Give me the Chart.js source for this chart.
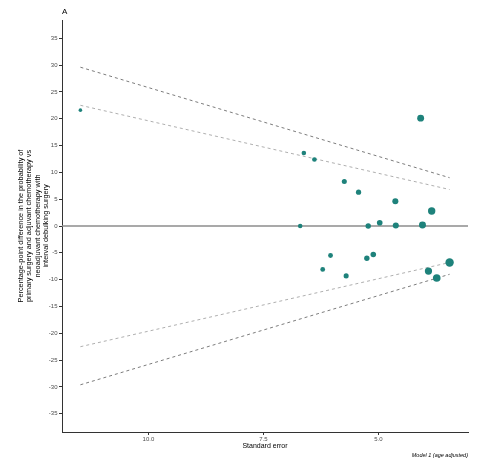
<!DOCTYPE html>
<html>
<head>
<meta charset="utf-8">
<script src="https://cdn.jsdelivr.net/npm/chart.js@4.4.1/dist/chart.umd.min.js"></script>
<style>
  html, body { margin: 0; padding: 0; background: #fff; }
  canvas { display: block; }
</style>
</head>
<body>
<canvas id="funnel" width="480" height="464"></canvas>
<script>
// studies: standard error and percentage-point difference
const seValues = [11.48, 6.62, 6.39, 5.74, 5.43, 4.63, 4.08, 3.84, 6.70, 5.22, 4.97, 4.62, 4.04,
                  6.04, 5.11, 5.25, 6.21, 5.70, 3.45, 3.91, 3.73];
const diffValues = [21.6, 13.6, 12.4, 8.3, 6.3, 4.6, 20.1, 2.8, 0.0, 0.0, 0.6, 0.1, 0.2,
                    -5.5, -5.3, -6.0, -8.1, -9.3, -6.8, -8.4, -9.7];

// funnel limits (ends of the dashed lines)
const funnelSE = [11.48, 3.45];
const upper95 = [22.5, 6.8];
const upper99 = [29.6, 9.0];
const lower95 = [-22.5, -6.8];
const lower99 = [-29.6, -9.0];

const xTicks = [10.0, 7.5, 5.0];
const yTicks = [-35, -30, -25, -20, -15, -10, -5, 0, 5, 10, 15, 20, 25, 30, 35];
const xLimits = [3.05, 11.88];
const yLimits = [-38.4, 38.4];

const teal = '#1e827b';
const pts = (xs, ys) => xs.map((x, i) => ({ x: x, y: ys[i] }));

const dashed = (data, color) => ({
    type: 'line', data: data, showLine: true, pointRadius: 0,
    borderColor: color, borderWidth: 0.8, borderDash: [3, 3], fill: false, order: 2
});

// extra labels: panel letter and caption
const extras = {
    id: 'extras',
    afterDraw(chart) {
        const ctx = chart.ctx, a = chart.chartArea;
        ctx.save();
        ctx.fillStyle = '#000';
        ctx.font = '8px "Liberation Sans", Arial, sans-serif';
        ctx.textAlign = 'left';
        ctx.textBaseline = 'middle';
        ctx.fillText('A', a.left, 12);
        ctx.font = 'italic 5.5px "Liberation Sans", Arial, sans-serif';
        ctx.textAlign = 'right';
        ctx.fillText('Model 1 (age adjusted)', a.right, 455);
        ctx.restore();
    }
};

const ctx = document.getElementById('funnel').getContext('2d');
new Chart(ctx, {
    type: 'scatter',
    data: {
        datasets: [
            {
                data: pts(seValues, diffValues),
                backgroundColor: teal, borderColor: teal, borderWidth: 0,
                pointRadius: c => 1.56 + 31.5 / (c.raw.x * c.raw.x),
                order: 0
            },
            {
                type: 'line', data: pts(xLimits, [0, 0]), showLine: true, pointRadius: 0,
                borderColor: '#8c8c8c', borderWidth: 1.3, order: 3
            },
            dashed(pts(funnelSE, upper99), '#5a5a5a'),
            dashed(pts(funnelSE, upper95), '#9a9a9a'),
            dashed(pts(funnelSE, lower95), '#9a9a9a'),
            dashed(pts(funnelSE, lower99), '#5a5a5a')
        ]
    },
    options: {
        responsive: false,
        animation: false,
        devicePixelRatio: 1,
        layout: { padding: { left: 0, right: 12, top: 20, bottom: 12 } },
        plugins: { legend: { display: false }, tooltip: { enabled: false } },
        scales: {
            x: {
                type: 'linear', reverse: true, min: xLimits[0], max: xLimits[1],
                afterBuildTicks: s => { s.ticks = xTicks.map(v => ({ value: v })); },
                afterFit: s => { s.height = 20; },
                grid: { display: true, drawOnChartArea: false, drawTicks: true, tickLength: 3, color: '#333' },
                border: { display: true, color: '#333', width: 1 },
                ticks: {
                    padding: 1, color: '#4d4d4d', maxRotation: 0,
                    font: { family: '"Liberation Sans", Arial, sans-serif', size: 6 },
                    callback: v => v.toFixed(1)
                },
                title: {
                    display: true, text: 'Standard error', color: '#000',
                    font: { family: '"Liberation Sans", Arial, sans-serif', size: 7, lineHeight: 1.15 },
                    padding: { top: 0, bottom: 2 }
                }
            },
            y: {
                type: 'linear', min: yLimits[0], max: yLimits[1],
                afterBuildTicks: s => { s.ticks = yTicks.map(v => ({ value: v })); },
                afterFit: s => { s.width = 62; },
                grid: { display: true, drawOnChartArea: false, drawTicks: true, tickLength: 3, color: '#333' },
                border: { display: true, color: '#333', width: 1 },
                ticks: {
                    padding: 1.5, color: '#4d4d4d',
                    font: { family: '"Liberation Sans", Arial, sans-serif', size: 6 }
                },
                title: {
                    display: true,
                    text: ['Percentage-point difference in the probability of',
                           'primary surgery and adjuvant chemotherapy vs',
                           'neoadjuvant chemotherapy with',
                           'interval debulking surgery'],
                    color: '#000',
                    font: { family: '"Liberation Sans", Arial, sans-serif', size: 7.3, lineHeight: 1.16 },
                    padding: { top: 16.5, bottom: 0 }
                }
            }
        }
    },
    plugins: [extras]
});
</script>
</body>
</html>
